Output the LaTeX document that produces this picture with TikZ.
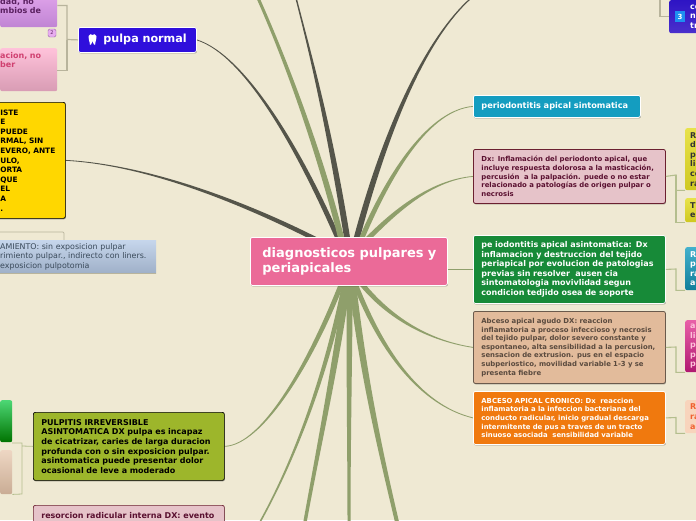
\documentclass[tikz,border=0pt]{standalone}
\usepackage{fontspec}
\setmainfont{DejaVu Sans}
\usetikzlibrary{calc,shadows,backgrounds}
\definecolor{paper}{HTML}{EFE9D3}
\definecolor{darkline}{HTML}{55554A}
\definecolor{greenline}{HTML}{8F9F6B}
\definecolor{brk}{HTML}{B8B49C}
\definecolor{brkg}{HTML}{B4BE8E}
\definecolor{rootc}{HTML}{EB6A98}
\definecolor{pulpac}{HTML}{2F0FDC}
\definecolor{perc}{HTML}{149DC0}
\definecolor{dxc}{HTML}{E6C3C9}
\definecolor{dxd}{HTML}{6B2030}
\definecolor{dxt}{HTML}{5A1030}
\definecolor{greenc}{HTML}{178A38}
\definecolor{tanc}{HTML}{E2BB9B}
\definecolor{tand}{HTML}{6A5A4C}
\definecolor{tant}{HTML}{5A4A3E}
\definecolor{orangec}{HTML}{F0790E}
\definecolor{olivec}{HTML}{9DB62B}
\definecolor{yelc}{HTML}{FFD700}
\definecolor{purtop}{HTML}{E8ACF0}
\definecolor{purbot}{HTML}{C084D4}
\definecolor{purt}{HTML}{5A2060}
\definecolor{pinktop}{HTML}{FFC2DA}
\definecolor{pinkbot}{HTML}{D89CB4}
\definecolor{pinkt}{HTML}{D04070}
\definecolor{bluetop}{HTML}{C6D6EC}
\definecolor{bluebot}{HTML}{9FB0C8}
\definecolor{bluet}{HTML}{3A4A5A}
\definecolor{yeltop}{HTML}{E8E24A}
\definecolor{yelbot}{HTML}{CFC820}
\definecolor{magtop}{HTML}{E860A8}
\definecolor{magbot}{HTML}{B01870}
\definecolor{indtop}{HTML}{2E14C4}
\definecolor{indbot}{HTML}{4A30CC}
\definecolor{badgeb}{HTML}{1E90F0}
\definecolor{salmonc}{HTML}{F8D4BC}
\definecolor{salmont}{HTML}{F06030}
\newcommand\taper[7]{\fill[#1]
  ($(#2)!#6pt!90:(#3)$) .. controls ($(#3)!#6pt!-90:(#2)$) and ($(#4)!#7pt!90:(#5)$) .. ($(#5)!#7pt!-90:(#4)$)
  -- ($(#5)!#7pt!90:(#4)$) .. controls ($(#4)!#7pt!-90:(#5)$) and ($(#3)!#6pt!90:(#2)$) .. ($(#2)!#6pt!-90:(#3)$) -- cycle;}
\tikzset{
  mnode/.style={anchor=north west,rounded corners=2pt,inner xsep=8pt,inner ysep=0pt,align=left,font=\bfseries},
  boxshadow/.style={drop shadow={shadow xshift=0.5pt,shadow yshift=-1pt,opacity=.35,fill=black}},
  wline/.style={draw=white,line width=.8pt},
  stub/.style={mnode,inner xsep=0pt},
  brkline/.style={draw=brk,line width=1.2pt},
  brkgreen/.style={draw=brkg,line width=1.1pt},
  small/.style={font=\bfseries\fontsize{6.9}{8.6}\selectfont},
  edge8/.style={font=\bfseries\fontsize{8}{9.6}\selectfont},
  edgeY/.style={font=\bfseries\fontsize{7.4}{9.6}\selectfont},
}
\begin{document}
\begin{tikzpicture}[x=1pt,y=-1pt]
\useasboundingbox (0,0) rectangle (696,520);
\begin{pgfonlayer}{background}
\fill[paper] (0,0) rectangle (696,520);
\end{pgfonlayer}

% central node
\node[mnode,boxshadow,wline,fill=rootc,text=white,minimum height=48pt,text width=181pt,font=\bfseries\fontsize{13}{15}\selectfont] (root) at (250,237) {\hspace*{4pt}diagnosticos pulpares y\\\hspace*{4pt}periapicales};

% left, upper
\node[mnode,boxshadow,wline,fill=pulpac,text=white,minimum height=25pt,inner xsep=0pt,text width=118pt,font=\bfseries\fontsize{11.2}{13}\selectfont] (pulpa) at (78,27) {\hspace{25pt}pulpa normal};
\fill[white] (88.5,36) .. controls (89,33.5) and (91.5,34) .. (92.5,35) .. controls (93.5,34) and (96,33.5) .. (96.5,36) .. controls (97,39) and (95.5,40) .. (95,45) .. controls (94,46) and (93.5,43) .. (92.5,41) .. controls (91.5,43) and (91,46) .. (90,45) .. controls (89.5,40) and (88,39) .. (88.5,36) -- cycle;
\node[stub,top color=purtop,bottom color=purbot,minimum height=42pt,text width=57pt,text=purt,edge8] (purple) at (0,-15) {dad, no\\mbios de};
\node[draw=purbot!80!black,fill=purtop,rounded corners=1.5pt,inner sep=0pt,minimum width=8pt,minimum height=8pt,text=purt,font=\fontsize{5}{5}\selectfont] (badgetwo) at (52,33) {2};
\node[stub,top color=pinktop,bottom color=pinkbot,minimum height=43pt,text width=57pt,text=pinkt,edge8] (pinkbox) at (0,48) {acion, no\\ber\\\mbox{}\\\mbox{}};
\draw[brkline] (pulpa.west) -- (67,39.5) |- ($(purple.south east)+(0,-22)$);
\draw[brkline] (67,39.5) |- ($(pinkbox.south east)+(0,-21)$);

\node[mnode,boxshadow,draw=black,line width=.7pt,fill=yelc,inner xsep=5pt,text width=60pt,minimum height=116pt,edgeY] (yellowbox) at (-5,102) {ISTE\\E\\PUEDE\\RMAL, SIN\\EVERO, ANTE\\ULO,\\ORTA\\QUE\\EL\\A\\.};

\draw[draw=brk,line width=.7pt,rounded corners=1pt] (-5,245) |- (64,232) -- (64,245);
\node[stub,top color=bluetop,bottom color=bluebot,minimum height=33pt,text width=156pt,text=bluet,rounded corners=0pt,font=\fontsize{7.9}{9.6}\selectfont] (bluebox) at (0,240) {AMIENTO: sin exposicion pulpar\\rimiento pulpar., indirecto con liners.\\exposicion pulpotomia};
\draw[brk,line width=.7pt] (bluebox.south west) -- (bluebox.south east);

% left, lower
\node[mnode,boxshadow,draw=black,line width=.7pt,fill=olivec,text=black,text width=175pt,minimum height=68pt,edge8] (olive) at (33,412) {PULPITIS IRREVERSIBLE\\ASINTOMATICA DX pulpa es incapaz\\de cicatrizar, caries de larga duracion\\profunda con o sin exposicion pulpar.\\asintomatica puede presentar dolor\\ocasional de leve a moderado};
\node[stub,top color=green!55!teal!70!white,bottom color=green!45!black,minimum height=42pt,text width=12pt] (greenstub) at (0,400) {};
\node[stub,top color=tanc!60!white,bottom color=tanc!75!gray,minimum height=44pt,text width=12pt] (tanstub) at (0,450) {};
\draw[brkgreen,line width=.8pt] (olive.west) -- (22,446) (12,443) -- (22,443) -- (22,494) -- (tanstub.south east);
\node[mnode,boxshadow,draw=dxd,line width=.7pt,fill=dxc,text=dxt,text width=175pt,minimum height=40pt,edge8] (resorcion) at (33,505) {resorcion radicular interna DX: evento\\\mbox{}\\\mbox{}};

% right column
\node[mnode,boxshadow,wline,fill=perc,text=white,text width=151pt,minimum height=22pt,font=\bfseries\fontsize{8.2}{10}\selectfont] (peri) at (473,95) {periodontitis apical sintomatica};
\node[mnode,boxshadow,draw=dxd,line width=.8pt,fill=dxc,text=dxt,text width=176pt,minimum height=54pt,small] (dx) at (473,149) {Dx: Inflamación del periodonto apical, que\\incluye respuesta dolorosa a la masticación,\\percusión\ \ a la palpación. puede o no estar\\relacionado a patologías de origen pulpar o\\necrosis};
\node[mnode,boxshadow,wline,fill=greenc,text=white,text width=176pt,minimum height=68pt,edge8] (gbox) at (473,235) {pe iodontitis apical asintomatica: Dx\\inflamacion y destruccion del tejido\\periapical por evolucion de patologias\\previas sin resolver\ \ ausen cia\\sintomatologia movivlidad segun\\condicion tedjido osea de soporte};
\node[mnode,boxshadow,draw=tand,line width=.8pt,fill=tanc,text=tant,text width=176pt,minimum height=72pt,small] (abs) at (473,311) {Abceso apical agudo DX: reaccion\\inflamatoria a proceso infeccioso y necrosis\\del tejido pulpar, dolor severo constante y\\espontaneo, alta sensibilidad a la percusion,\\sensacion de extrusion. pus en el espacio\\subperiostico, movilidad variable 1-3 y se\\presenta fiebre};
\node[mnode,boxshadow,wline,fill=orangec,text=white,text width=176pt,minimum height=53pt,small] (cron) at (473,391) {ABCESO APICAL CRONICO: Dx\ \ reaccion\\inflamatoria a la infeccion bacteriana del\\conducto radicular, inicio gradual descarga\\intermitente de pus a traves de un tracto\\sinuoso asociada\ \ sensibilidad variable};

% right stubs
\node[stub,inner xsep=5pt,top color=yeltop,bottom color=yelbot,minimum height=62pt,text width=70pt,text=black!80,edge8] (rA) at (685,128) {RI\\de\\pr\\lig\\co\\ra};
\node[stub,inner xsep=5pt,top color=yeltop,bottom color=yelbot,minimum height=24pt,text width=70pt,text=black!80,edge8] (rB) at (685,198) {TR\\es};
\node[stub,inner xsep=5pt,top color=perc!80!white,bottom color=perc!80!black,minimum height=43pt,text width=70pt,text=white,edge8] (rC) at (685,247) {RI\\pe\\ra\\ac};
\node[stub,inner xsep=5pt,top color=magtop,bottom color=magbot,minimum height=52pt,text width=70pt,text=pinktop,edge8] (rD) at (685,320) {ap\\lig\\pu\\pe\\pe};
\node[stub,inner xsep=5pt,fill=salmonc,minimum height=33pt,text width=70pt,text=salmont,edge8] (rE) at (685,400) {RI\\ra\\ac};
\node[stub,inner xsep=21pt,top color=indtop,bottom color=indbot,minimum height=33pt,text width=50pt,text=white,edge8] (rTop) at (669,0) {cc\\n\\tr};
\node[fill=badgeb,inner sep=0pt,minimum width=10pt,minimum height=11pt,text=white,font=\bfseries\fontsize{7}{7}\selectfont] (badgethree) at (680,16.5) {3};

\draw[brkgreen] (dx.east) -- (676,175) |- (rA.south west);
\draw[brkgreen] (676,175) |- (rB.south west);
\draw[brkgreen] (gbox.east) -- (676,269) |- (rC.south west);
\draw[brkgreen] (abs.east) -- (676,347) |- (rD.south west);
\draw[brkgreen] (cron.east) -- (676,417.5) |- (rE.south west);
\draw[brkline] (660,-2) |- (rTop.west);

% tapered connectors, behind the nodes
\coordinate (sPulpa) at ($(root.north)+(-8,8)$);
\coordinate (sYellow) at ($(root.north)+(-22,8)$);
\coordinate (sTopA) at ($(root.north)+(-1,6)$);
\coordinate (sTopB) at ($(root.north)+(-6,8)$);
\coordinate (sTopC) at ($(root.north)+(6,8)$);
\coordinate (sPeri) at ($(root.north)+(10,8)$);
\coordinate (sDx) at ($(root.north)+(13,8)$);
\coordinate (sAbs) at ($(root.south)+(8,-8)$);
\coordinate (sCron) at ($(root.south)+(4,-8)$);
\coordinate (sOlive) at ($(root.south)+(-5,-8)$);
\coordinate (sLowA) at ($(root.south)+(-3,-8)$);
\coordinate (sLowB) at ($(root.south)+(-1,-8)$);
\coordinate (sLowC) at ($(root.south)+(1,-8)$);
\coordinate (sLowD) at ($(root.south)+(3,-8)$);
\coordinate (eTopA) at (296,-2);
\coordinate (eTopB) at (258,-2);
\coordinate (eTopC) at (470,-1);
\coordinate (eLowA) at (260,522);
\coordinate (eLowB) at (305,522);
\coordinate (eLowC) at (349,522);
\coordinate (eLowD) at (397,522);
\begin{pgfonlayer}{background}
\taper{darkline}{sPulpa}{300,150}{245,55}{pulpa.east}{2.5}{.4}
\taper{darkline}{sYellow}{250,205}{150,165}{yellowbox.east}{2.3}{.4}
\taper{darkline}{sTopA}{330,130}{312,60}{eTopA}{3}{.7}
\taper{greenline}{sTopB}{322,160}{290,70}{eTopB}{3}{1.5}
\taper{darkline}{sTopC}{385,130}{425,40}{eTopC}{3}{.6}
\taper{greenline}{sPeri}{390,170}{430,110}{peri.west}{2.5}{.4}
\taper{greenline}{sDx}{400,205}{435,180}{dx.west}{2.5}{.4}
\taper{greenline}{sAbs}{385,315}{425,340}{abs.west}{2.5}{.4}
\taper{greenline}{sCron}{380,350}{420,405}{cron.west}{2.5}{.4}
\taper{greenline}{sOlive}{310,365}{262,445}{olive.east}{2.5}{.4}
\taper{greenline}{sLowA}{330,360}{300,450}{eLowA}{2.5}{.8}
\taper{greenline}{sLowB}{335,370}{318,450}{eLowB}{3.5}{1.7}
\taper{greenline}{sLowC}{349,370}{349,450}{eLowC}{3}{1.5}
\taper{greenline}{sLowD}{362,370}{380,450}{eLowD}{3.5}{2}
\draw[greenline,line width=1pt] (gbox.west) -- (root.east|-gbox.west);
\end{pgfonlayer}
\end{tikzpicture}
\end{document}
